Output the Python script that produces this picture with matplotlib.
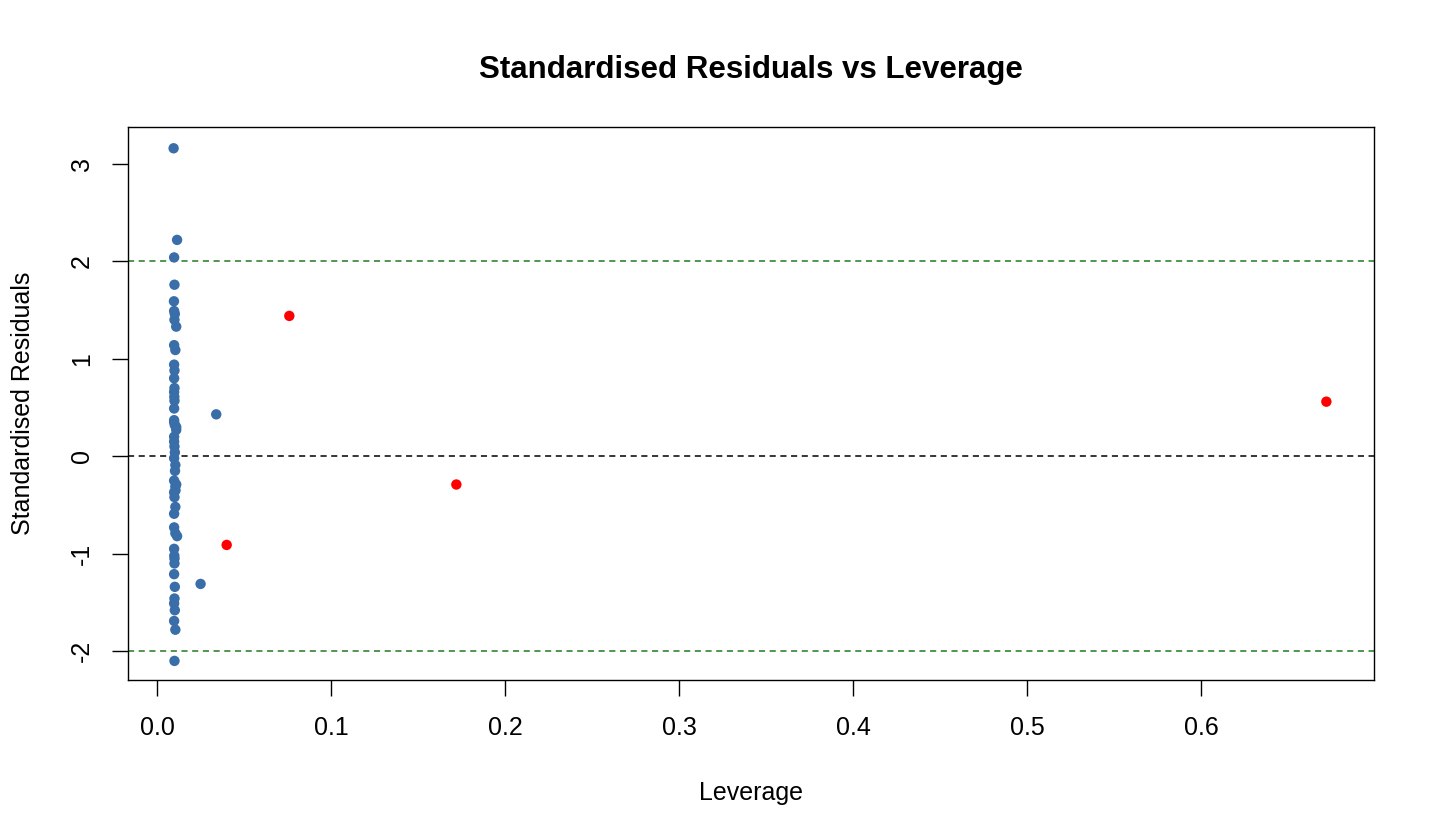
import numpy as np
import matplotlib
matplotlib.use("Agg")
import matplotlib.pyplot as plt

plt.rcParams['font.family'] = ['Liberation Sans', 'DejaVu Sans']

# regular observations (leverage, standardised residual)
lev_blue = [0.0095, 0.0115, 0.0098, 0.0100, 0.0097, 0.0098, 0.0102, 0.0100, 0.0110,
            0.0098, 0.0105, 0.0098, 0.0100, 0.0098, 0.0100, 0.0098, 0.0099, 0.0100,
            0.0098, 0.0098, 0.0102, 0.0110, 0.0098, 0.0100, 0.0102, 0.0098, 0.0105,
            0.0103, 0.0098, 0.0105, 0.0110, 0.0098, 0.0100, 0.0105, 0.0098, 0.0098,
            0.0105, 0.0098, 0.0099, 0.0100, 0.0098, 0.0102, 0.0100, 0.0098, 0.0102,
            0.0098, 0.0105, 0.0100, 0.0110, 0.0098, 0.0106, 0.0340, 0.0250, 0.0115,
            0.0100, 0.0098]
res_blue = [3.16, 2.22, 2.04, 1.76, 1.59, 1.49, 1.46, 1.40, 1.33,
            1.14, 1.09, 0.94, 0.88, 0.80, 0.70, 0.66, 0.61, 0.57,
            0.49, 0.37, 0.32, 0.27, 0.15, 0.10, 0.04, -0.02, -0.09,
            -0.15, -0.25, -0.31, -0.29, -0.37, -0.42, -0.52, -0.59, -0.73,
            -0.79, -0.95, -1.02, -1.10, -1.21, -1.34, -1.46, -1.51, -1.58,
            -1.69, -1.78, -2.10, 0.30, 0.20, -0.35, 0.43, -1.31, -0.82,
            -1.05, 0.35]

# high leverage observations
lev_red = [0.076, 0.040, 0.172, 0.672]
res_red = [1.44, -0.91, -0.29, 0.56]

fig = plt.figure(figsize=(14.4, 8.4), dpi=100)
ax = fig.add_axes([0.0889, 0.190, 0.8653, 0.659])

ax.axhline(0, color='black', linestyle=(0, (4, 3)), linewidth=1.1, zorder=1)
ax.axhline(2, color='#1f7a1f', linestyle=(0, (4, 3)), linewidth=1.1, zorder=1)
ax.axhline(-2, color='#1f7a1f', linestyle=(0, (4, 3)), linewidth=1.1, zorder=1)

ax.scatter(lev_blue, res_blue, s=56, color='#3a6ea8', edgecolors='none', zorder=3)
ax.scatter(lev_red, res_red, s=56, color='red', edgecolors='none', zorder=3)

ax.set_xlim(-0.0167, 0.6994)
ax.set_ylim(-2.30, 3.38)
ax.set_xticks(np.arange(0, 0.61, 0.1))
ax.set_xticklabels(['0.0', '0.1', '0.2', '0.3', '0.4', '0.5', '0.6'])
ax.set_yticks([-2, -1, 0, 1, 2, 3])
ax.set_yticklabels(['-2', '-1', '0', '1', '2', '3'], rotation=90, va='center')

ax.tick_params(axis='both', direction='out', length=11.5, width=1, labelsize=18)
ax.tick_params(axis='x', pad=14)
ax.tick_params(axis='y', pad=13)
for sp in ax.spines.values():
    sp.set_linewidth(1)

ax.set_xlabel('Leverage', fontsize=18, labelpad=30)
ax.set_ylabel('Standardised Residuals', fontsize=18, labelpad=25)
ax.set_title('Standardised Residuals vs Leverage', fontsize=22.5, fontweight='bold', pad=35)

fig.savefig('out.png', dpi=100)
